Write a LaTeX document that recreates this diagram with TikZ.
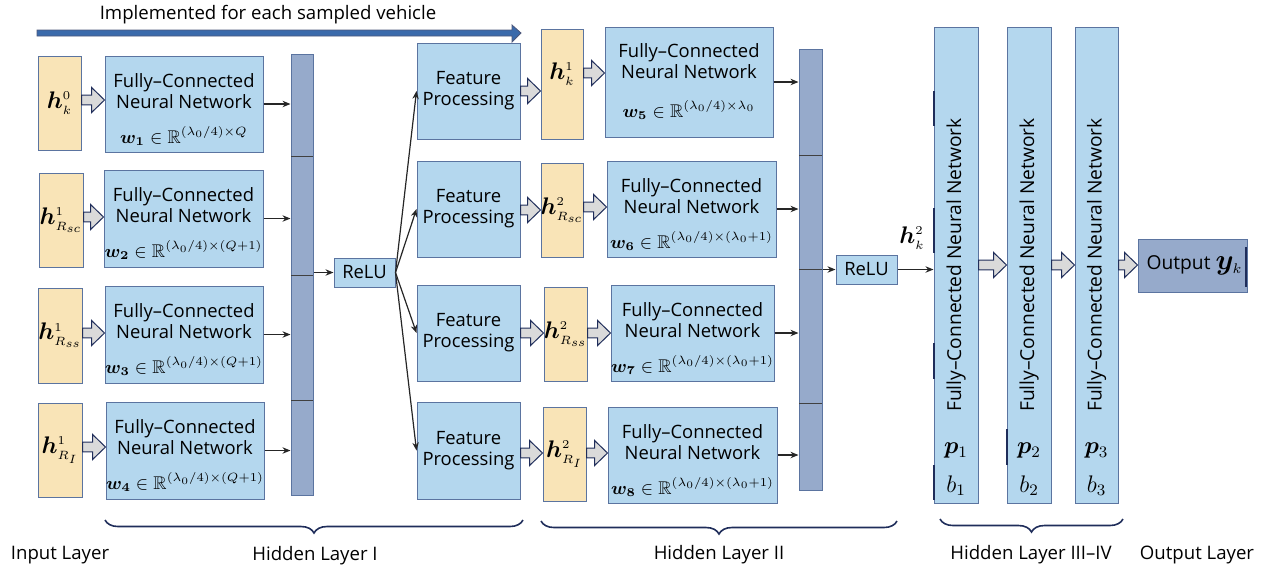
\documentclass[tikz,border=0pt]{standalone}
\usepackage{fontspec}
\usepackage{amsmath,amssymb,bm}
\setsansfont{Open Sans}
\usetikzlibrary{fit,calc,arrows.meta,decorations.pathreplacing}

\definecolor{fcblue}{HTML}{B4D7EE}
\definecolor{barblue}{HTML}{96AACB}
\definecolor{inyellow}{HTML}{F9E4B7}
\definecolor{edgeblue}{HTML}{5B74A0}
\definecolor{navy}{HTML}{1F2D5A}
\definecolor{topblue}{HTML}{3A6AAB}
\definecolor{arrgray}{HTML}{DADADA}

\tikzset{
  fcbox/.style={draw=edgeblue, fill=fcblue, line width=0.5pt, inner sep=0pt},
  fctext/.style={align=center, inner sep=0pt, font=\sffamily\fontsize{9.2}{10.5}\selectfont},
  inbox/.style={draw=edgeblue, fill=inyellow, line width=0.5pt, inner sep=0pt},
  hlabel/.style={inner sep=0pt, font=\fontsize{12.5}{15}\selectfont},
  barbox/.style={draw=edgeblue, fill=barblue, line width=0.5pt, inner sep=0pt},
  sepline/.style={black!75, line width=0.5pt},
  conn/.style={-{Stealth[length=4pt,width=3.2pt]}, line width=0.6pt, black!85},
  fatarr/.style={draw=navy, fill=arrgray, line width=0.5pt},
  rottext/.style={rotate=90, font=\sffamily\fontsize{9.6}{11}\selectfont},
  parm/.style={font=\fontsize{11.5}{13}\selectfont},
  layerlabel/.style={font=\sffamily\fontsize{9.3}{11}\selectfont},
  bracket/.style={navy, line width=0.8pt, decorate, decoration={brace, mirror, amplitude=6.5pt}},
  glitch/.style={navy, line width=1.1pt},
}

% bold h with tiny indices
\newcommand{\hvec}[2]{\bm{h}^{\scriptscriptstyle #1}_{\scriptscriptstyle #2}}

% gray block arrow: from node, to node, height (px)
\newcommand{\fatarrow}[3]{%
  \draw[fatarr] let \p1=(#1.east), \p2=(#2.west), \p3=(0,#3) in
    (\x1,\y3+2.4pt) -- (\x2-6.5pt,\y3+2.4pt) -- (\x2-6.5pt,\y3+6.3pt) -- (\x2,\y3)
    -- (\x2-6.5pt,\y3-6.3pt) -- (\x2-6.5pt,\y3-2.4pt) -- (\x1,\y3-2.4pt) -- cycle;}

\begin{document}
\begin{tikzpicture}[x=0.5pt, y=-0.5pt]
\useasboundingbox (0,0) rectangle (1273,570);

% per-vehicle arrow
\node[layerlabel] (impl) at (268,15) {Implemented for each sampled vehicle};
\filldraw[fill=topblue, draw=navy!80, line width=0.4pt]
  (37,30) -- (512,30) -- (512,25) -- (521,33) -- (512,42) -- (512,36) -- (37,36) -- cycle;

% input layer
\node[inbox, fit={(38,56)(81,150)}] (in1) {};
\node[inbox, fit={(39,173)(83,267)}] (in2) {};
\node[inbox, fit={(38,288)(82,383)}] (in3) {};
\node[inbox, fit={(38,403)(82,497)}] (in4) {};
\node[hlabel] (in1t) at (in1.center) {$\hvec{0}{k}$};
\node[hlabel] (in2t) at (in2.center) {$\hvec{1}{R_{sc}}$};
\node[hlabel] (in3t) at (in3.center) {$\hvec{1}{R_{ss}}$};
\node[hlabel] (in4t) at (in4.center) {$\hvec{1}{R_{I}}$};

% hidden layer I
\node[fcbox, fit={(105,56)(263,152)}] (fc1) {};
\node[fcbox, fit={(104,170)(263,267)}] (fc2) {};
\node[fcbox, fit={(105,286)(263,383)}] (fc3) {};
\node[fcbox, fit={(106,402)(264,499)}] (fc4) {};
\node[fctext] (fc1t) at ([yshift=-2.5pt]fc1.center)
  {Fully–Connected\\Neural Network\\[7pt]$\bm{w}_{\bm{1}}\in\mathbb{R}^{(\lambda_0/4)\times Q}$};
\node[fctext] (fc2t) at ([yshift=-2.5pt]fc2.center)
  {Fully–Connected\\Neural Network\\[7pt]$\bm{w}_{\bm{2}}\in\mathbb{R}^{(\lambda_0/4)\times (Q+1)}$};
\node[fctext] (fc3t) at ([yshift=-2.5pt]fc3.center)
  {Fully–Connected\\Neural Network\\[7pt]$\bm{w}_{\bm{3}}\in\mathbb{R}^{(\lambda_0/4)\times (Q+1)}$};
\node[fctext] (fc4t) at ([yshift=-2.5pt]fc4.center)
  {Fully–Connected\\Neural Network\\[7pt]$\bm{w}_{\bm{4}}\in\mathbb{R}^{(\lambda_0/4)\times (Q+1)}$};

\fatarrow{in1}{fc1}{100}
\fatarrow{in2}{fc2}{217}
\fatarrow{in3}{fc3}{333}
\fatarrow{in4}{fc4}{447}

\node[barbox, fit={(291,54)(313,495)}] (bar1) {};
\foreach \yy in {156,275,400}
  \draw[sepline] (291,\yy) -- (313,\yy);
\foreach \i in {1,...,4}
  \draw[conn] (fc\i.east) -- (fc\i.east -| bar1.west);

\node[fcbox, fit={(334,258)(395,287)}] (relu1) {};
\node[fctext] (relu1t) at (relu1.center) {ReLU};
\draw[conn] (relu1.west -| bar1.east) -- (relu1.west);

\node[fcbox, fit={(417,43)(520,139)}] (fp1) {};
\node[fcbox, fit={(417,161)(520,257)}] (fp2) {};
\node[fcbox, fit={(417,285)(520,381)}] (fp3) {};
\node[fcbox, fit={(417,402)(520,499)}] (fp4) {};
\foreach \i in {1,...,4} {
  \node[fctext] (fp\i t) at (fp\i.center) {Feature\\Processing};
  \draw[conn] (relu1.east) -- (fp\i.west);
}

% hidden layer II
\node[inbox, fit={(541,29)(583,139)}] (mid1) {};
\node[inbox, fit={(541,163)(583,257)}] (mid2) {};
\node[inbox, fit={(544,287)(587,381)}] (mid3) {};
\node[inbox, fit={(543,407)(586,501)}] (mid4) {};
\node[hlabel] (mid1t) at ([yshift=5pt]mid1.center) {$\hvec{1}{k}$};
\node[hlabel] (mid2t) at (mid2.center) {$\hvec{2}{R_{sc}}$};
\node[hlabel] (mid3t) at (mid3.center) {$\hvec{2}{R_{ss}}$};
\node[hlabel] (mid4t) at (mid4.center) {$\hvec{2}{R_{I}}$};

\node[fcbox, fit={(605,27)(773,137)}] (fc5) {};
\node[fcbox, fit={(607,161)(776,257)}] (fc6) {};
\node[fcbox, fit={(611,285)(774,381)}] (fc7) {};
\node[fcbox, fit={(608,407)(777,503)}] (fc8) {};
\node[fctext] (fc5t) at ([yshift=0.5pt]fc5.center)
  {Fully–Connected\\Neural Network\\[9pt]$\bm{w}_{\bm{5}}\in\mathbb{R}^{(\lambda_0/4)\times \lambda_0}$};
\node[fctext] (fc6t) at ([yshift=-2.5pt]fc6.center)
  {Fully–Connected\\Neural Network\\[7pt]$\bm{w}_{\bm{6}}\in\mathbb{R}^{(\lambda_0/4)\times (\lambda_0+1)}$};
\node[fctext] (fc7t) at ([yshift=-2.5pt]fc7.center)
  {Fully–Connected\\Neural Network\\[7pt]$\bm{w}_{\bm{7}}\in\mathbb{R}^{(\lambda_0/4)\times (\lambda_0+1)}$};
\node[fctext] (fc8t) at ([yshift=-2.5pt]fc8.center)
  {Fully–Connected\\Neural Network\\[7pt]$\bm{w}_{\bm{8}}\in\mathbb{R}^{(\lambda_0/4)\times (\lambda_0+1)}$};

\fatarrow{fp1}{mid1}{91}
\fatarrow{fp2}{mid2}{210}
\fatarrow{fp3}{mid3}{333}
\fatarrow{fp4}{mid4}{453}
\fatarrow{mid1}{fc5}{73}
\fatarrow{mid2}{fc6}{207}
\fatarrow{mid3}{fc7}{333}
\fatarrow{mid4}{fc8}{453}

\node[barbox, fit={(799,49)(822,490)}] (bar2) {};
\foreach \yy in {155,269,403}
  \draw[sepline] (799,\yy) -- (822,\yy);
\foreach \i in {5,...,8}
  \draw[conn] (fc\i.east) -- (fc\i.east -| bar2.west);

\node[fcbox, fit={(836,255)(897,284)}] (relu2) {};
\node[fctext] (relu2t) at (relu2.center) {ReLU};
\draw[conn] (relu2.west -| bar2.east) -- (relu2.west);

% hidden layers III-IV
\node[fcbox, fit={(934,27)(978,503)}] (col1) {};
\node[fcbox, fit={(1007,27)(1051,503)}] (col2) {};
\node[fcbox, fit={(1075,27)(1118,503)}] (col3) {};
\foreach \i in {1,2,3} {
  \node[rottext] (col\i t) at (col\i.center) {Fully–Connected Neural Network};
  \node[parm] (p\i) at ([yshift=26.5pt]col\i.south) {$\bm{p}_{\i}$};
  \node[parm] (b\i) at ([yshift=9pt]col\i.south) {$b_{\i}$};
}
\draw[conn] (relu2.east) -- (relu2.east -| col1.west);
\node[hlabel] (hk2) at (912,238) {$\hvec{2}{k}$};

% output
\node[barbox, fit={(1138,239)(1247,292)}] (out) {};
\node[fctext, font=\sffamily\fontsize{9.6}{11}\selectfont] (outt) at ([xshift=1pt]out.center)
  {Output {\fontsize{14}{16}\selectfont$\bm{y}_{\scriptscriptstyle k}$}};
\fatarrow{col1}{col2}{265}
\fatarrow{col2}{col3}{265}
\fatarrow{col3}{out}{265}

% edge marks
\draw[glitch] (934,91) -- (934,126);
\draw[glitch] (934,208) -- (934,253);
\draw[glitch] (934,343) -- (934,379);
\draw[glitch] (934,465) -- (934,500);
\draw[glitch] (1007,429) -- (1007,465);
\draw[glitch] (1246,247) -- (1246,287);

% layer braces
\draw[bracket] (105,520) -- (523,520);
\draw[bracket] (541,521) -- (897,521);
\draw[bracket] (940,519) -- (1123,519);

\node[layerlabel] (lin) at (60,555) {Input Layer};
\node[layerlabel] (lh1) at (315,556) {Hidden Layer I};
\node[layerlabel] (lh2) at (719,555) {Hidden Layer II};
\node[layerlabel] (lh3) at (1031,555) {Hidden Layer III–IV};
\node[layerlabel] (lout) at (1197,555) {Output Layer};
\end{tikzpicture}
\end{document}
